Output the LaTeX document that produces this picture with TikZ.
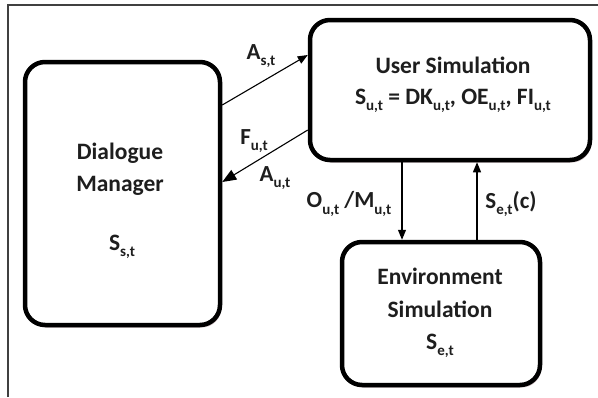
\documentclass[tikz,border=0pt]{standalone}
\usepackage{fontspec}
\setmainfont{Carlito}
\usetikzlibrary{arrows.meta,shadows}
\definecolor{ink}{HTML}{1E1E1E}
\definecolor{shade}{HTML}{A89094}
\newcommand\sbs[1]{\raisebox{-0.28em}{\fontsize{15}{15}\selectfont #1}}
\begin{document}
\begin{tikzpicture}[x=1pt,y=-1pt,
  box/.style={draw=black, line width=4.5pt, rounded corners=20pt, fill=white,
    drop shadow={shadow xshift=1.5pt, shadow yshift=-2.5pt, fill=shade, opacity=0.7}},
  txt/.style={font=\fontsize{23.5}{26}\selectfont\bfseries, text=ink, inner sep=0pt},
  lbl/.style={font=\fontsize{23}{26}\selectfont\bfseries, text=ink, inner sep=0pt},
  conn/.style={draw=black, line width=1.1pt, -{Triangle[length=10pt,width=8pt]}},
  frame/.style={draw=black!75, line width=1.3pt}]
\useasboundingbox (0,0) rectangle (598,397);
\draw[frame] (8,397) -- (8,5) -- (598,5);
% boxes
\node[box, minimum width=195pt, minimum height=263pt] (dm) at (122.5,193.5) {};
\node[box, minimum width=280pt, minimum height=140pt] (us) at (450,90) {};
\node[box, minimum width=198pt, minimum height=143pt] (env) at (441,313.5) {};
% texts
\node[txt] (dm1) at (120,153) {Dialogue};
\node[txt] (dm2) at (120,186) {Manager};
\node[txt] (dm3) at (122,247) {S\sbs{s,t}};
\node[txt] (us1) at (453,65) {User Simulation};
\node[txt] (us2) at (453,101) {S\sbs{u,t} = DK\sbs{u,t}, OE\sbs{u,t}, FI\sbs{u,t}};
\node[txt] (en1) at (440,276) {Environment};
\node[txt] (en2) at (440,309) {Simulation};
\node[txt] (en3) at (440,346) {S\sbs{e,t}};
% connectors
\draw[conn] ([yshift=88.5pt]dm.east) -- ([yshift=35pt]us.west);
\draw[conn, -{Triangle[length=14pt,width=11pt]}] ([yshift=-40pt]us.west) -- ([yshift=11.5pt]dm.east);
\coordinate (ox) at (402,200);
\coordinate (sx) at (477,200);
\draw[conn] (us.south -| ox) -- (env.north -| ox);
\draw[conn] (env.north -| sx) -- (us.south -| sx);
% labels
\node[lbl] (las) at (261,56) {A\sbs{s,t}};
\node[lbl] (lfu) at (254,141) {F\sbs{u,t}};
\node[lbl] (lau) at (275,178) {A\sbs{u,t}};
\node[lbl] (lom) at (349,204) {O\sbs{u,t} /M\sbs{u,t}};
\node[lbl] (lse) at (511,204) {S\sbs{e,t}(c)};
\end{tikzpicture}
\end{document}
